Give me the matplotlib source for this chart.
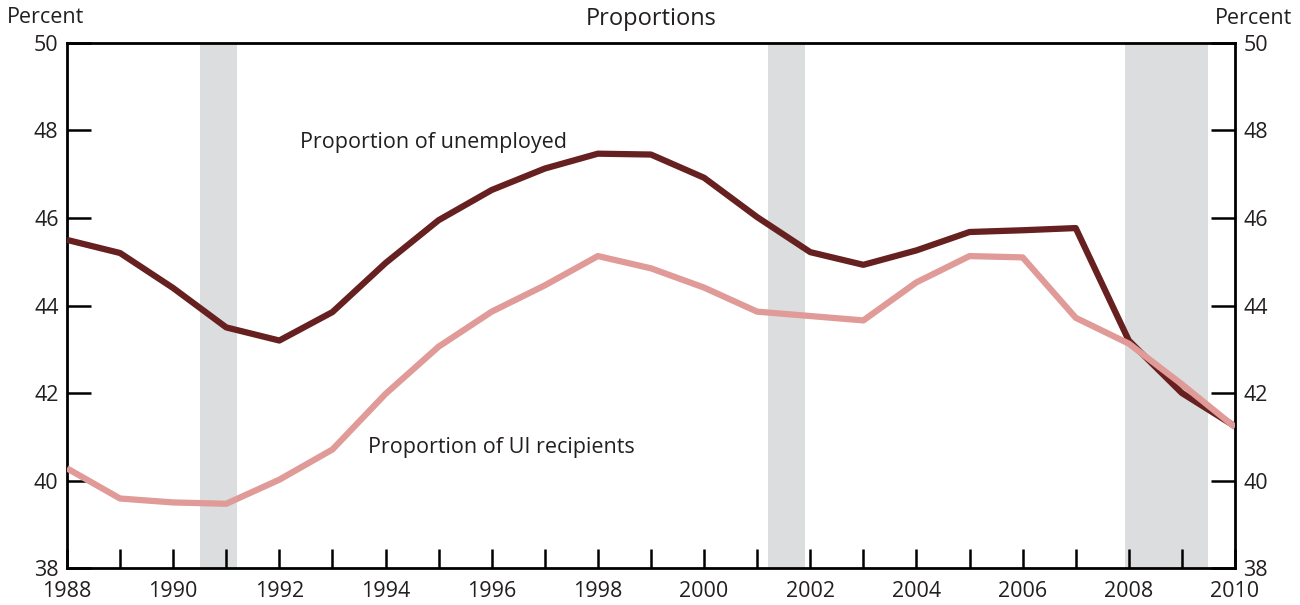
import matplotlib.pyplot as plt
import numpy as np

plt.rcParams["font.family"] = ["Open Sans", "DejaVu Sans"]

years = np.arange(1988, 2011)
unemployed = [45.5, 45.2, 44.4, 43.5, 43.2, 43.85, 44.97, 45.95, 46.64, 47.13,
               47.47, 47.45, 46.92, 46.02, 45.22, 44.93, 45.26, 45.68, 45.72,
               45.77, 43.2, 42.0, 41.24]
ui_recipients = [40.28, 39.59, 39.5, 39.47, 40.02, 40.71, 41.98, 43.06, 43.86,
                 44.46, 45.13, 44.85, 44.41, 43.86, 43.76, 43.66, 44.53, 45.13,
                 45.1, 43.72, 43.13, 42.2, 41.22]
recessions = [(1990.5, 1991.2), (2001.2, 2001.9), (2007.92, 2009.5)]

DARK = "#66201f"
PINK = "#e09a98"
SHADE = "#dcdddf"
TEXT = "#231f20"

fig = plt.figure(figsize=(13, 6.05), dpi=100)
ax = fig.add_axes([0.0515, 0.061, 0.8985, 0.868])

for start, end in recessions:
    ax.axvspan(start, end, color=SHADE, lw=0, zorder=0)

ax.plot(years, unemployed, color=DARK, lw=4.5, zorder=3, solid_capstyle="butt")
ax.plot(years, ui_recipients, color=PINK, lw=4.5, zorder=4, solid_capstyle="butt")

ax.set_xlim(1988, 2010)
ax.set_ylim(38, 50)

ax.set_xticks(np.arange(1988, 2011, 2))
ax.set_xticks(np.arange(1989, 2010, 2), minor=True)
ax.set_yticks(np.arange(38, 51, 2))

for side in ["left", "right", "top", "bottom"]:
    ax.spines[side].set_linewidth(2)
    ax.spines[side].set_color("black")

ax.tick_params(axis="x", which="both", direction="in", length=14, width=1.8,
               labelsize=15.5, pad=9, colors="black", labelcolor=TEXT)
ax.tick_params(axis="y", direction="in", length=17, width=1.8, labelsize=15.5,
               left=True, right=True, labelleft=True, labelright=True, pad=6,
               labelcolor=TEXT)
ax.tick_params(axis="x", which="minor", labelbottom=False)

fig.text(0.501, 0.968, "Proportions", ha="center", va="center", fontsize=17,
         color=TEXT)
fig.text(0.035, 0.971, "Percent", ha="center", va="center", fontsize=15.5,
         color=TEXT)
fig.text(0.9645, 0.969, "Percent", ha="center", va="center", fontsize=15.5,
         color=TEXT)

ax.text(1992.39, 47.72, "Proportion of unemployed", fontsize=15.5, va="center",
        color=TEXT)
ax.text(1993.67, 40.76, "Proportion of UI recipients", fontsize=15.5, va="center",
        color=TEXT)

plt.savefig("out.png", dpi=100)
